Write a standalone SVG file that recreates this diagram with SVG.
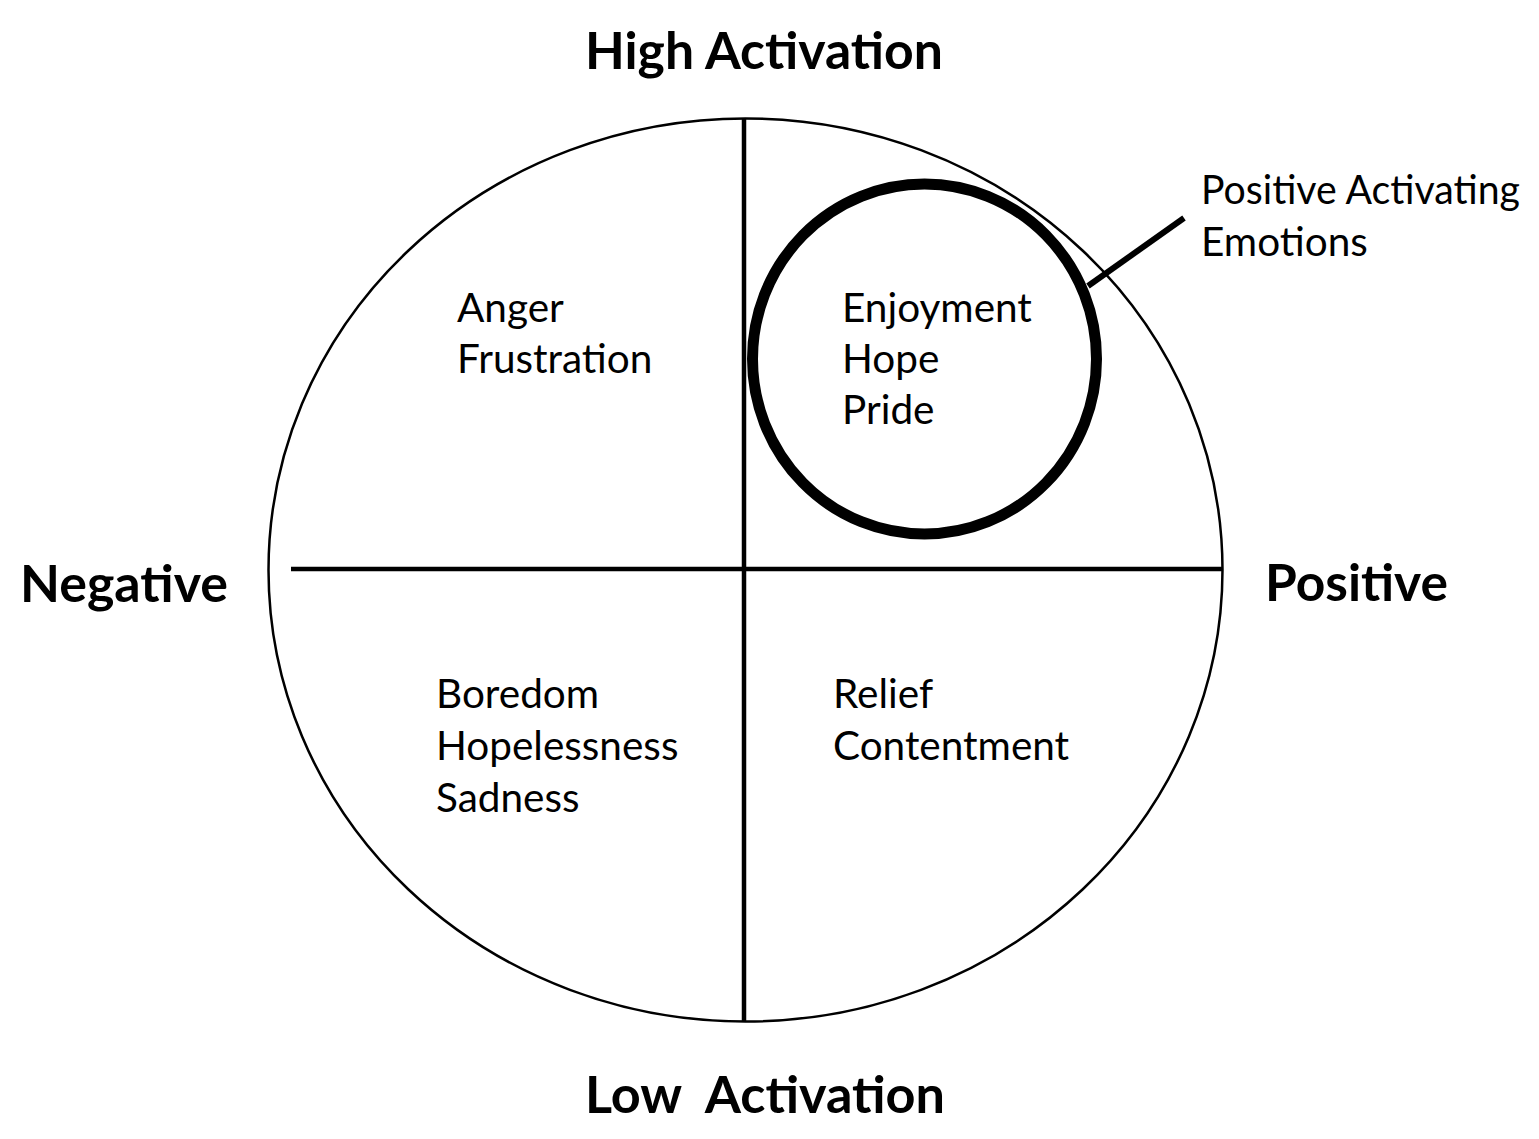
<svg xmlns="http://www.w3.org/2000/svg" width="1539" height="1139" viewBox="0 0 1539 1139">
<style>
.t{font-family:Lato,"Open Sans","Liberation Sans",sans-serif;font-size:40.5px;fill:#000}
.h{font-family:Lato,"Open Sans","Liberation Sans",sans-serif;font-size:51px;font-weight:bold;fill:#000}
.ln{stroke:#000;fill:none}
</style>
<rect width="1539" height="1139" fill="#fff"/>
<g id="outer-ellipse">
<ellipse cx="745.5" cy="570" rx="477" ry="451.5" class="ln" stroke-width="2.5"/>
</g>
<g id="connectors">
<line x1="744" y1="119" x2="744" y2="1021" class="ln" stroke-width="4.5"/>
<line x1="291" y1="569" x2="1222" y2="569" class="ln" stroke-width="4.5"/>
<line x1="1088" y1="286" x2="1184" y2="218" class="ln" stroke-width="6"/>
</g>
<g id="highlight-circle">
<ellipse cx="924.5" cy="359" rx="172" ry="175" class="ln" stroke-width="11"/>
</g>
<g id="axis-labels">
<text class="h" x="585" y="69" textLength="358" lengthAdjust="spacingAndGlyphs">High Activation</text>
<text class="h" x="585" y="1113" textLength="360" lengthAdjust="spacingAndGlyphs" xml:space="preserve">Low  Activation</text>
<text class="h" x="20" y="602" textLength="208" lengthAdjust="spacingAndGlyphs">Negative</text>
<text class="h" x="1265" y="601" textLength="183" lengthAdjust="spacingAndGlyphs">Positive</text>
</g>
<g id="q-high-negative">
<text class="t" x="457" y="322">Anger</text>
<text class="t" x="457" y="373">Frustration</text>
</g>
<g id="q-high-positive">
<text class="t" x="842" y="322">Enjoyment</text>
<text class="t" x="842" y="373">Hope</text>
<text class="t" x="842" y="424">Pride</text>
</g>
<g id="q-low-negative">
<text class="t" x="436" y="708">Boredom</text>
<text class="t" x="436" y="760">Hopelessness</text>
<text class="t" x="436" y="812">Sadness</text>
</g>
<g id="q-low-positive">
<text class="t" x="833" y="708">Relief</text>
<text class="t" x="833" y="760">Contentment</text>
</g>
<g id="callout">
<text class="t" x="1201" y="204" textLength="319" lengthAdjust="spacingAndGlyphs">Positive Activating</text>
<text class="t" x="1201" y="256">Emotions</text>
</g>
</svg>
